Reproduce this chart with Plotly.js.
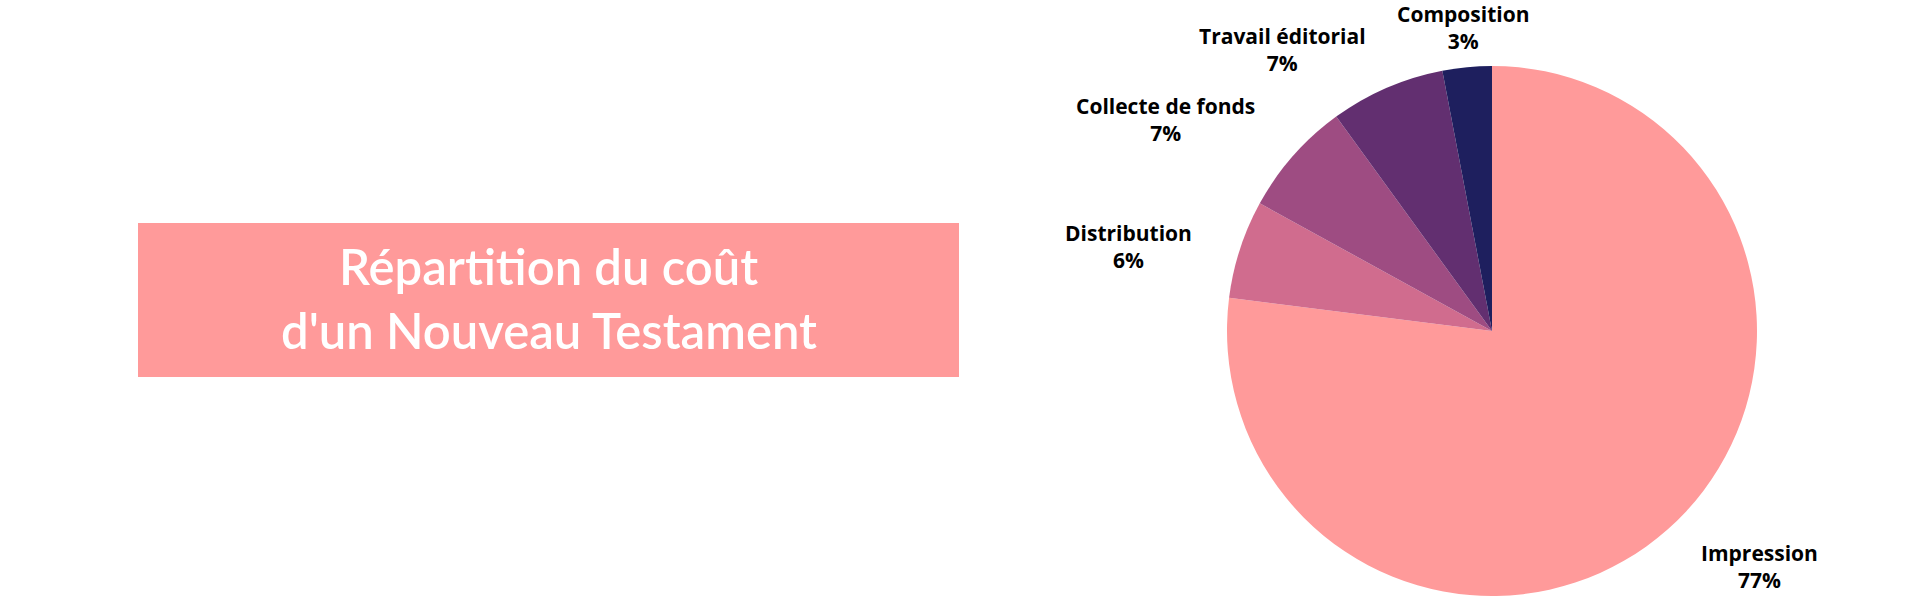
<!DOCTYPE html>
<html>
<head>
<meta charset="utf-8">
<script src="https://cdn.plot.ly/plotly-3.0.1.min.js"></script>
<style>
  html, body { margin: 0; padding: 0; background: #fff; }
  #chart { width: 1920px; height: 600px; }
</style>
</head>
<body>
<div id="chart"></div>
<script>
// Cost breakdown of one New Testament (percent)
const categories = ['Impression', 'Distribution', 'Collecte de fonds', 'Travail éditorial', 'Composition'];
const shares = [77, 6, 7, 7, 3];
const sliceColors = ['#FF9A9A', '#D06C8E', '#9E4C82', '#622F70', '#1E1F5E'];
const titleLines = ['Répartition du coût', "d'un Nouveau Testament"];

const W = 1920, H = 600;
// pie centre / radius in pixels
const cx = 1492, cy = 331, rad = 265;
// label ring just outside the pie (a bit wider horizontally, like the original)
const labelRx = 313, labelRy = 275;
const banner = { left: 138, right: 959, top: 223, bottom: 377 };

const trace = {
  type: 'pie',
  labels: categories,
  values: shares,
  sort: false,
  direction: 'clockwise',
  rotation: 0,
  marker: { colors: sliceColors, line: { width: 0 } },
  textinfo: 'none',
  hoverinfo: 'none',
  domain: {
    x: [(cx - rad) / W, (cx + rad) / W],
    y: [1 - (cy + rad) / H, 1 - (cy - rad) / H]
  }
};

// outside labels, placed at each slice's mid angle
const total = shares.reduce((a, b) => a + b, 0);
let cum = 0;
const sliceLabels = categories.map((name, i) => {
  const mid = (cum + shares[i] / 2) / total * 2 * Math.PI;
  cum += shares[i];
  const s = Math.sin(mid), c = Math.cos(mid);
  const px = cx + labelRx * s;
  const py = cy - labelRy * c;
  return {
    text: name + '<br>' + Math.round(shares[i] / total * 100) + '%',
    xref: 'paper', yref: 'paper',
    x: px / W, y: 1 - py / H,
    xanchor: Math.abs(s) < 0.2 ? 'center' : (s > 0 ? 'left' : 'right'),
    yanchor: Math.abs(c) < 0.35 ? 'middle' : (c > 0 ? 'bottom' : 'top'),
    align: 'center',
    showarrow: false,
    font: { family: 'Open Sans', size: 21, color: '#000', weight: 700 }
  };
});

const bannerMid = (banner.left + banner.right) / 2 / W;
const titleNotes = titleLines.map((t, i) => ({
  text: t,
  xref: 'paper', yref: 'paper',
  x: bannerMid,
  y: 1 - (266 + i * 64) / H,
  xanchor: 'center', yanchor: 'middle',
  showarrow: false,
  font: { family: 'Lato', size: 49, color: '#fff', weight: 600 }
}));

const layout = {
  width: W,
  height: H,
  margin: { l: 0, r: 0, t: 0, b: 0 },
  paper_bgcolor: '#fff',
  showlegend: false,
  shapes: [{
    type: 'rect',
    xref: 'paper', yref: 'paper',
    x0: banner.left / W, x1: banner.right / W,
    y0: 1 - banner.bottom / H, y1: 1 - banner.top / H,
    fillcolor: '#FF9A9A',
    line: { width: 0 },
    layer: 'below'
  }],
  annotations: titleNotes.concat(sliceLabels)
};

Plotly.newPlot('chart', [trace], layout, { displayModeBar: false, staticPlot: true });
</script>
</body>
</html>
